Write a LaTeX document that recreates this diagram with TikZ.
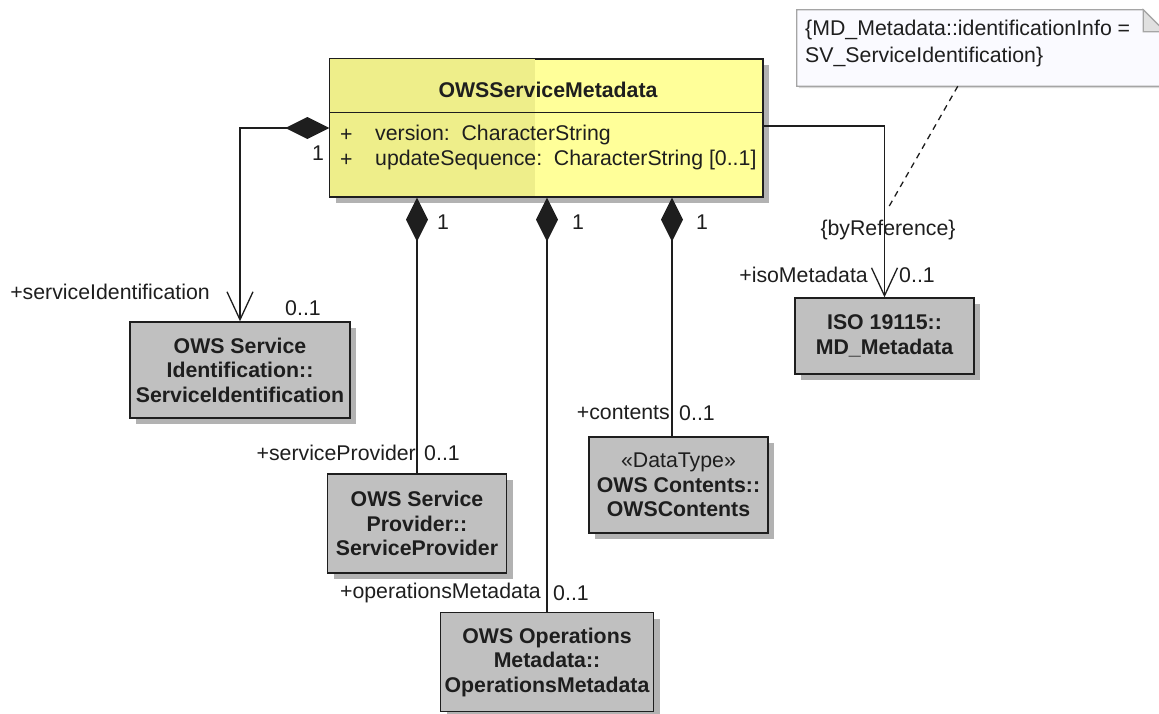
\documentclass[tikz,border=0pt]{standalone}
\usepackage{fontspec}
\setmainfont{Liberation Sans}
\usetikzlibrary{arrows.meta,shadows,calc}
\definecolor{clsyellow}{RGB}{255,255,153}
\definecolor{clsyellowdk}{RGB}{238,238,138}
\definecolor{boxgray}{RGB}{192,192,192}
\definecolor{notefill}{RGB}{250,250,255}
\definecolor{notedraw}{RGB}{165,165,165}
\definecolor{ink}{RGB}{30,30,30}
\begin{document}
\begin{tikzpicture}[x=1pt,y=-1pt,
  font=\fontsize{21.3}{25}\selectfont, text=ink,
  cls/.style={draw=ink, line width=1.4pt, fill=boxgray,
    drop shadow={shadow xshift=6pt, shadow yshift=-6pt, fill=black!30, opacity=1},
    align=center, inner sep=0pt, font=\fontsize{21.3}{24.5}\selectfont\bfseries},
  lbl/.style={inner sep=0pt},
  assoc/.style={draw=ink, line width=1.4pt},
  comp/.style={assoc, {Diamond[length=44pt,width=22pt]}-},
  compnav/.style={assoc, {Diamond[length=44pt,width=22pt]}-{Straight Barb[length=28pt,width=26pt,line width=1.3pt]}},
  nav/.style={assoc, -{Straight Barb[length=28pt,width=26pt,line width=1.3pt]}},
]
\useasboundingbox (0,0) rectangle (1159,713);

% main class
\node[draw=ink, line width=1.4pt, fill=clsyellow, minimum width=433pt, minimum height=138pt, inner sep=0pt,
  drop shadow={shadow xshift=6pt, shadow yshift=-6pt, fill=black!30, opacity=1}] (main) at (546.5,128) {};
\fill[clsyellowdk] ($(main.north west)+(0.7,0.7)$) rectangle (535,196.3);
\draw[ink, line width=1.4pt] (main.north west) rectangle (main.south east);
\draw[ink, line width=1.4pt] ($(main.north west)+(0,54)$) -- ($(main.north east)+(0,54)$);
\node[lbl, font=\fontsize{21.3}{25}\selectfont\bfseries] (title) at (548,90) {OWSServiceMetadata};
\node[lbl, anchor=west] (p1) at (340,135) {+};
\node[lbl, anchor=west] (p2) at (340,160) {+};
\node[lbl, anchor=west] (a1) at (375,135) {version:\ \ CharacterString};
\node[lbl, anchor=west] (a2) at (375,160) {updateSequence:\ \ CharacterString [0..1]};

% other classes
\node[cls, minimum width=220pt, minimum height=96pt] (sid) at (240,370) {OWS Service\\Identification::\\ServiceIdentification};
\node[cls, minimum width=179pt, minimum height=99pt] (sp) at (417,523.5) {OWS Service\\Provider::\\ServiceProvider};
\node[cls, minimum width=213pt, minimum height=99pt] (om) at (547,662) {OWS Operations\\Metadata::\\OperationsMetadata};
\node[cls, minimum width=179pt, minimum height=96pt] (oc) at (678.5,485) {{\mdseries\guillemotleft DataType\guillemotright}\\OWS Contents::\\OWSContents};
\node[cls, minimum width=179pt, minimum height=76pt] (iso) at (884.5,336) {ISO 19115::\\MD\_Metadata};

% note
\node[inner sep=0pt, minimum width=368pt, minimum height=76pt] (note) at (981,48) {};
\filldraw[draw=notedraw, fill=notefill, line width=1.2pt,
  drop shadow={shadow xshift=2pt, shadow yshift=-2pt, fill=black!15, opacity=1}]
  (note.north west) -- ($(note.north east)+(-22,0)$) -- ($(note.north east)+(0,22)$)
  -- (note.south east) -- (note.south west) -- cycle;
\filldraw[draw=notedraw, fill=black!12, line width=1.2pt]
  ($(note.north east)+(-22,0)$) -- ($(note.north east)+(-22,22)$) -- ($(note.north east)+(0,22)$) -- cycle;
\node[lbl, anchor=north west, align=left, font=\fontsize{21.3}{27}\selectfont] (notetext) at (805,20)
  {\{MD\_Metadata::identificationInfo =\\SV\_ServiceIdentification\}};

% connectors
\draw[compnav] (main.west) -| (sid.north);
\draw[comp] (main.south -| sp.north) -- (sp.north);
\draw[comp] (main.south -| om.north) -- (om.north);
\coordinate (ocn) at ($(oc.north)+(-6.5,0)$);
\draw[comp] (main.south -| ocn) -- (ocn);
\draw[nav] ($(main.east)+(0,-2)$) -| (iso.north);
\coordinate (anc) at (887,210);
\draw[ink, line width=1.3pt, dash pattern=on 6pt off 5pt] ($(note.south west)+(161,0)$) -- (anc);

% labels
\node[lbl] (m0) at (318,153) {1};
\node[lbl] (r0) at (110,292) {+serviceIdentification};
\node[lbl] (c0) at (303,308) {0..1};
\node[lbl] (m1) at (443,222) {1};
\node[lbl] (m2) at (578,222) {1};
\node[lbl] (m3) at (702,222) {1};
\node[lbl, anchor=east] (r1) at (416,453) {+serviceProvider};
\node[lbl] (c1) at (442,453) {0..1};
\node[lbl, anchor=east] (r2) at (541,593) {+operationsMetadata};
\node[lbl] (c2) at (571,593) {0..1};
\node[lbl, anchor=east] (r3) at (670,413) {+contents};
\node[lbl] (c3) at (697,413) {0..1};
\node[lbl] (br) at (888,230) {\{byReference\}};
\node[lbl, anchor=east] (r4) at (868,275) {+isoMetadata};
\node[lbl] (c4) at (917,275) {0..1};
\end{tikzpicture}
\end{document}
